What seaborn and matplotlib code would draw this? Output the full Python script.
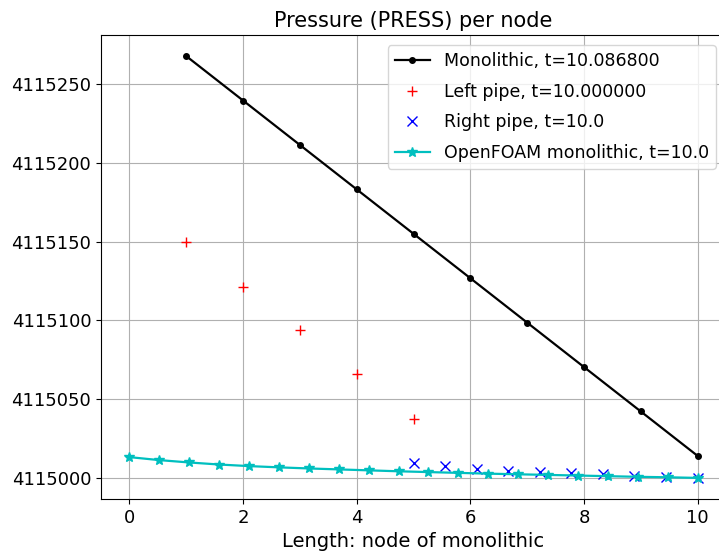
import numpy as np
import matplotlib
matplotlib.use("Agg")
import matplotlib.pyplot as plt
import seaborn as sns

mono_x = [1, 2, 3, 4, 5, 6, 7, 8, 9, 10]
mono_p = [4115267.8, 4115239.6, 4115211.4, 4115183.2, 4115155.0,
          4115126.8, 4115098.6, 4115070.4, 4115042.2, 4115014.0]

left_x = [1, 2, 3, 4, 5]
left_p = [4115149.8, 4115121.4, 4115093.8, 4115065.8, 4115037.2]

right_x = [5.0, 5.556, 6.111, 6.667, 7.222, 7.778, 8.333, 8.889, 9.444, 10.0]
right_p = [4115009.2, 4115007.8, 4115005.6, 4115004.6, 4115003.7,
           4115002.9, 4115002.2, 4115001.5, 4115000.8, 4115000.2]

of_x = [0.0, 0.526, 1.053, 1.579, 2.105, 2.632, 3.158, 3.684, 4.211, 4.737,
        5.263, 5.789, 6.316, 6.842, 7.368, 7.895, 8.421, 8.947, 9.474, 10.0]
of_p = [4115013.2, 4115011.3, 4115009.8, 4115008.5, 4115007.5, 4115006.7,
        4115006.0, 4115005.4, 4115004.8, 4115004.2, 4115003.7, 4115003.2,
        4115002.7, 4115002.3, 4115001.9, 4115001.5, 4115001.1, 4115000.7,
        4115000.4, 4115000.0]

fig = plt.figure(figsize=(7.19, 5.52), dpi=100)
ax = fig.add_axes([101/719, 1 - 499/552, 625/719, (499 - 35)/552])

sns.lineplot(x=mono_x, y=mono_p, ax=ax, color='k', marker='o', markersize=4,
             markeredgecolor='k', markeredgewidth=1, linewidth=1.6,
             label='Monolithic, t=10.086800', sort=False)
sns.lineplot(x=left_x, y=left_p, ax=ax, color='r', marker='+', markersize=7,
             markeredgecolor='r', markeredgewidth=1, linestyle='',
             label='Left pipe, t=10.000000', sort=False)
sns.lineplot(x=right_x, y=right_p, ax=ax, color='b', marker='x', markersize=7,
             markeredgecolor='b', markeredgewidth=1, linestyle='',
             label='Right pipe, t=10.0', sort=False)
sns.lineplot(x=of_x, y=of_p, ax=ax, color='c', marker='*', markersize=7,
             markeredgecolor='c', markeredgewidth=1, linewidth=1.6,
             label='OpenFOAM monolithic, t=10.0', sort=False)

ax.set_xlim(-0.5, 10.5)
ax.ticklabel_format(axis='y', useOffset=False, style='plain')
ax.set_yticks([4115000, 4115050, 4115100, 4115150, 4115200, 4115250])
ax.grid(True, color='#b0b0b0', linewidth=0.8)
ax.set_axisbelow(True)
ax.set_title('Pressure (PRESS) per node', fontsize=15)
ax.set_xlabel('Length: node of monolithic', fontsize=14)
ax.tick_params(labelsize=13)
ax.legend(loc='upper right', fontsize=12.5, labelspacing=0.72,
          borderaxespad=0.6)

fig.savefig('out.png', dpi=100)
